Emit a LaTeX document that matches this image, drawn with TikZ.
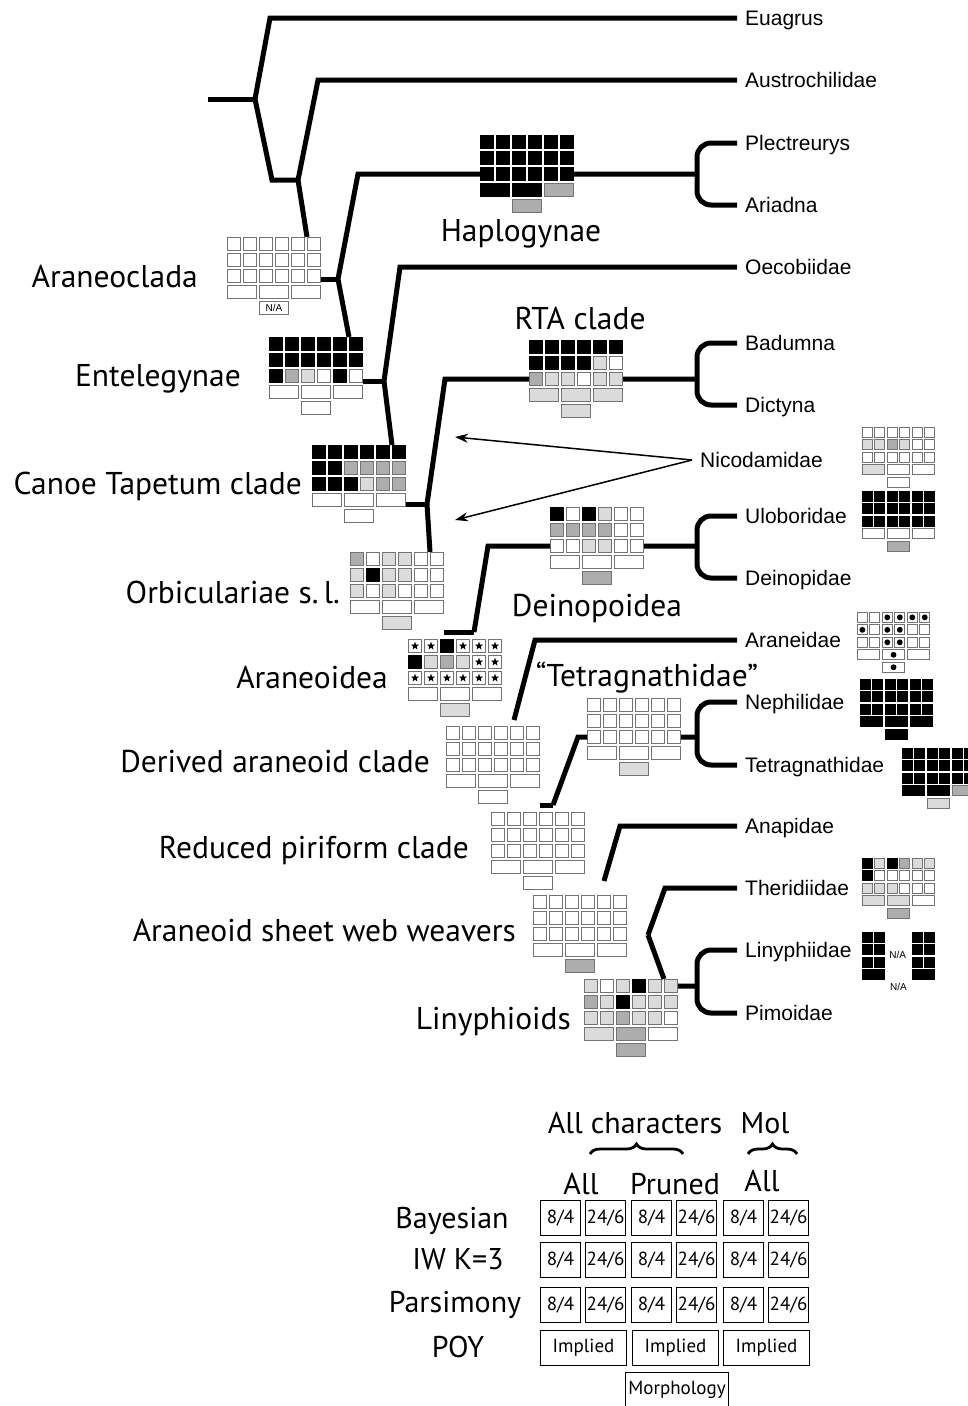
\documentclass[tikz,border=0pt]{standalone}
\usepackage{fontspec}
\setmainfont{Liberation Sans}
\newfontfamily\cladefont{PT Sans}
\usetikzlibrary{shapes.geometric,decorations.pathreplacing,arrows.meta}
\definecolor{lightgrey}{gray}{0.86}
\definecolor{midgrey}{gray}{0.68}
\definecolor{cellline}{gray}{0.45}

\tikzset{
  tree/.style={line width=5pt},
  cell/.style={draw=cellline, line width=1.2pt, fill=white, inner sep=0pt,
    minimum width=12.8pt, minimum height=12.8pt, anchor=north west},
  widecell/.style={minimum width=28.8pt},
  kind/.code={\edef\kindkey{k#1}\expandafter\pgfkeysalso\expandafter{\kindkey}},
  kw/.style={},
  kl/.style={fill=lightgrey},
  kg/.style={fill=midgrey},
  kb/.style={fill=black, draw=black},
  ks/.style={append after command={node[star, star points=5, star point ratio=2.4,
    fill=black, inner sep=0pt, minimum size=8.5pt] at (\tikzlastnode.center) {}}},
  kd/.style={append after command={node[circle, fill=black, inner sep=0pt,
    minimum size=7.5pt] at (\tikzlastnode.center) {}}},
  kn/.style={draw=none, fill=none},
  clade/.style={font=\cladefont\fontsize{31.5}{31.5}\selectfont, inner sep=0pt},
  taxon/.style={font=\fontsize{21}{21}\selectfont, anchor=west, inner xsep=8pt,
    inner ysep=0pt, text height=15pt, text depth=0pt},
  bracket/.style={tree, rounded corners=14pt},
  legend/.style={font=\cladefont\fontsize{30}{30}\selectfont, inner sep=0pt, anchor=base},
  lcell/.style={draw, line width=1.1pt, minimum width=40pt, minimum height=35pt,
    anchor=north west, inner sep=0pt, font=\cladefont\fontsize{19}{19}\selectfont},
  natext/.style={font=\fontsize{10}{10}\selectfont, inner sep=0pt},
  brace/.style={decorate, decoration={brace, amplitude=10pt}, line width=2.8pt},
}

% one row of six character cells
\newcommand{\charrow}[3]{%
  \foreach \c [count=\i from 0] in {#3}
    \node[cell, kind=\c] (#1-\i) at ({16*\i},#2) {};}

% name, x, y, scale, row 1, row 2, row 3, wide row, bottom cell
\newcommand{\charblock}[9]{%
  \begin{scope}[shift={(#2,#3)}, scale=#4, transform shape,
      cell/.append style={line width=#4*1.2pt}]
    \charrow{#1-1}{0}{#5}
    \charrow{#1-2}{16}{#6}
    \charrow{#1-3}{32}{#7}
    \foreach \c [count=\i from 0] in {#8}
      \node[cell, widecell, kind=\c] (#1-w\i) at ({32*\i},48) {};
    \node[cell, widecell, kind=#9] (#1-b) at (32,64) {};
  \end{scope}}

\begin{document}
\begin{tikzpicture}[x=1pt,y=-1pt]
\useasboundingbox (0,0) rectangle (967,1406);

% terminal taxa
\node[taxon] (euagrus) at (737,18) {Euagrus};
\node[taxon] (austro) at (737,80) {Austrochilidae};
\node[taxon] (plect) at (737,143) {Plectreurys};
\node[taxon] (ariadna) at (737,205) {Ariadna};
\node[taxon] (oecob) at (737,267) {Oecobiidae};
\node[taxon] (badumna) at (737,343) {Badumna};
\node[taxon] (dictyna) at (737,405) {Dictyna};
\node[taxon] (nicod) at (692,460) {Nicodamidae};
\node[taxon] (ulob) at (737,516) {Uloboridae};
\node[taxon] (deinop) at (737,578) {Deinopidae};
\node[taxon] (aran) at (737,640) {Araneidae};
\node[taxon] (neph) at (737,702) {Nephilidae};
\node[taxon] (tetr) at (737,765) {Tetragnathidae};
\node[taxon] (anap) at (737,826) {Anapidae};
\node[taxon] (ther) at (737,888) {Theridiidae};
\node[taxon] (liny) at (737,950) {Linyphiidae};
\node[taxon] (pimo) at (737,1013) {Pimoidae};

% clade names
\node[clade, anchor=base east] (l-aclada) at (198,287) {Araneoclada};
\node[clade, anchor=base east] (l-ent) at (241,386) {Entelegynae};
\node[clade, anchor=base east] (l-canoe) at (302,494) {Canoe Tapetum clade};
\node[clade, anchor=base east] (l-orbi) at (340,603) {Orbiculariae s.\,l.};
\node[clade, anchor=base east] (l-anoid) at (388,688) {Araneoidea};
\node[clade, anchor=base east] (l-derived) at (430,772) {Derived araneoid clade};
\node[clade, anchor=base east] (l-reduced) at (469,858) {Reduced piriform clade};
\node[clade, anchor=base east] (l-sheet) at (516,941) {Araneoid sheet web weavers};
\node[clade, anchor=base east] (l-lino) at (571,1029) {Linyphioids};
\node[clade, anchor=base] (l-haplo) at (521,241) {Haplogynae};
\node[clade, anchor=base] (l-rta) at (580,329) {RTA clade};
\node[clade, anchor=base] (l-dein) at (597,616) {Deinopoidea};
\node[clade, anchor=base] (l-tetcl) at (647,686) {“Tetragnathidae”};

% character blocks on the branches
\charblock{haplo}{480}{135}{1}{b,b,b,b,b,b}{b,b,b,b,b,b}{b,b,b,b,b,b}{b,b,g}{g}
\charblock{aclada}{227}{237}{1}{w,w,w,w,w,w}{w,w,w,w,w,w}{w,w,w,w,w,w}{w,w,w}{w}
\charblock{ent}{269}{337}{1}{b,b,b,b,b,b}{b,b,b,b,b,b}{b,g,l,w,b,w}{w,w,w}{w}
\charblock{canoe}{312}{445}{1}{b,b,b,b,b,b}{b,b,g,g,g,g}{b,b,b,l,g,g}{w,w,w}{w}
\charblock{rta}{529}{340}{1}{b,b,b,b,b,b}{b,b,b,b,l,w}{g,l,l,w,l,l}{l,l,l}{l}
\charblock{orbi}{350}{552}{1}{g,w,l,l,w,w}{l,b,l,l,w,w}{l,w,l,w,w,w}{w,w,w}{l}
\charblock{dein}{550}{507}{1}{b,w,b,l,w,w}{g,g,g,g,w,w}{w,w,l,l,w,w}{w,w,w}{g}
\charblock{anoid}{408}{639}{1}{s,s,b,s,s,s}{b,l,g,l,s,s}{s,s,s,s,s,s}{w,w,w}{l}
\charblock{derived}{446}{726}{1}{w,w,w,w,w,w}{w,w,w,w,w,w}{w,w,w,w,w,w}{w,w,w}{w}
\charblock{tetcl}{587}{698}{1}{w,w,w,w,w,w}{w,w,w,w,w,w}{w,w,w,w,w,w}{w,w,w}{l}
\charblock{reduced}{491}{812}{1}{w,w,w,w,w,w}{w,w,w,w,w,w}{w,w,w,w,w,w}{w,w,w}{w}
\charblock{sheet}{533}{895}{1}{w,w,w,w,w,w}{w,w,w,w,w,w}{w,w,w,w,w,w}{w,w,w}{g}
\charblock{lino}{584}{979}{1}{l,w,l,b,l,l}{g,l,b,l,l,l}{l,l,g,l,l,w}{l,g,w}{g}
\node[natext] at (aclada-b) {N/A};

% character blocks of the terminals
\charblock{nicodc}{862}{427}{0.78}{w,w,w,w,w,w}{l,l,g,l,w,w}{w,w,w,w,w,w}{l,w,w}{w}
\charblock{ulobc}{862}{491}{0.78}{b,b,b,b,b,b}{b,b,b,b,b,b}{b,b,b,b,b,b}{w,w,w}{g}
\charblock{aranc}{857}{612}{0.78}{w,w,d,d,d,d}{d,w,d,d,w,w}{w,w,d,d,w,w}{w,d,w}{d}
\charblock{nephc}{860}{679}{0.78}{b,b,b,b,b,b}{b,b,b,b,b,b}{b,b,b,b,b,b}{b,b,b}{b}
\charblock{tetrc}{902}{748}{0.78}{b,b,b,b,b,b}{b,b,b,b,b,b}{b,b,b,b,b,b}{b,b,g}{l}
\charblock{therc}{862}{858}{0.78}{b,l,b,g,l,l}{b,w,w,w,w,w}{l,l,l,w,w,w}{l,l,w}{g}
\charblock{linyc}{862}{932}{0.78}{b,b,n,n,b,b}{b,b,n,n,b,b}{b,b,n,n,b,b}{b,n,b}{n}
\node[natext] at (linyc-2-2.south east) {N/A};
\node[natext] at (linyc-b) {N/A};

% tree nodes
\coordinate (root) at (208,99);
\coordinate (n-euag) at (255,99);
\coordinate (n-austro) at (298,180);
\coordinate (n-aclada) at (338,279);
\coordinate (n-ent) at (384,381);
\coordinate (n-canoe) at (427,504);
\coordinate (n-orbi) at (474,632);
\coordinate (n-anoid) at (514,720);
\coordinate (n-derived) at (553,805);
\coordinate (n-reduced) at (604,881);
\coordinate (n-sheet) at (648,935);
\coordinate (haplo-tip) at (697,174);
\coordinate (rta-tip) at (697,379);
\coordinate (dein-tip) at (697,546);
\coordinate (tetcl-tip) at (697,737);
\coordinate (lino-tip) at (697,986);

% branches
\draw[tree] (root) -- (n-euag);
\draw[tree] (n-euag) -- (270,18) -- (euagrus);
\draw[tree] (n-euag) -- (272,180) -- (n-austro);
\draw[tree] (n-austro) -- (318,80) -- (austro);
\draw[tree] (n-austro) -- (aclada-1-5.north west);
\draw[tree] (aclada-3-5.east |- n-aclada) -- (n-aclada);
\draw[tree] (n-aclada) -- (358,174) -- (haplo-3-0.west);
\draw[tree] (haplo-3-5.east) -- (haplo-tip);
\draw[tree] (n-aclada) -- (ent-1-5.north west);
\draw[tree] (ent-3-5.east |- n-ent) -- (n-ent);
\draw[tree] (n-ent) -- (400,267) -- (oecob);
\draw[tree] (n-ent) -- (canoe-1-5.north west);
\draw[tree] (canoe-w2.east |- n-canoe) -- (n-canoe);
\draw[tree] (n-canoe) -- (445,379) -- (rta-3-0.west);
\draw[tree] (rta-3-5.east) -- (rta-tip);
\draw[tree] (n-canoe) -- (orbi-1-5.north west);
\draw[tree] (orbi-w2.east |- n-orbi) -- (n-orbi);
\draw[tree] (n-orbi) -- (488,546) -- (dein-3-0.west);
\draw[tree] (dein-3-5.east) -- (dein-tip);
\draw[tree] (n-anoid) -- (535,640) -- (aran);
\draw[tree] (derived-w2.east |- n-derived) -- (n-derived);
\draw[tree] (n-derived) -- (578,737) -- (tetcl-3-0.west);
\draw[tree] (tetcl-3-5.east) -- (tetcl-tip);
\draw[tree] (n-reduced) -- (620,826) -- (anap);
\draw[tree] (n-sheet) -- (665,888) -- (ther);
\draw[tree] (n-sheet) -- (lino-1-5.north west);
\draw[tree] (lino-1-5.east) -- (lino-tip);

% sister pairs
\draw[bracket] (plect) -- (697,143) -- (697,205) -- (ariadna);
\draw[bracket] (badumna) -- (697,343) -- (697,405) -- (dictyna);
\draw[bracket] (ulob) -- (697,516) -- (697,578) -- (deinop);
\draw[bracket] (neph) -- (697,702) -- (697,765) -- (tetr);
\draw[bracket] (liny) -- (697,950) -- (697,1013) -- (pimo);

% alternative positions of Nicodamidae
\coordinate (nicod-a) at (455,437);
\coordinate (nicod-b) at (455,520);
\draw[-{Stealth[length=13pt,width=9pt]}, line width=1.5pt] (nicod.west) -- (nicod-a);
\draw[-{Stealth[length=13pt,width=9pt]}, line width=1.5pt] (nicod.west) -- (nicod-b);

% legend
\node[legend] (allchar) at (635,1133) {All characters};
\node[legend] (mol) at (765,1133) {Mol};
\draw[brace] (590,1154) -- (683,1154);
\draw[brace] (748,1154) -- (797,1154);
\node[legend] (h-all) at (581,1194) {All};
\node[legend] (h-pruned) at (675,1194) {Pruned};
\node[legend] (h-mol) at (762,1191) {All};
\node[legend] (r-bay) at (452,1228) {Bayesian};
\node[legend] (r-iw) at (458,1269) {IW K=3};
\node[legend] (r-pars) at (455,1312) {Parsimony};
\node[legend] (r-poy) at (458,1357) {POY};
\foreach \row/\yy in {bay/1200,iw/1242,pars/1287}
  \foreach \xx [count=\i] in {540,631,723} {
    \node[lcell] (\row-\i a) at (\xx,\yy) {8/4};
    \node[lcell] (\row-\i b) at (\xx+45,\yy) {24/6};
  }
\foreach \xx [count=\i] in {540,632,723}
  \node[lcell, minimum width=86pt] (poy-\i) at (\xx,1330) {Implied};
\node[lcell, minimum width=103pt] (morph) at (625,1372) {Morphology};
\end{tikzpicture}
\end{document}
